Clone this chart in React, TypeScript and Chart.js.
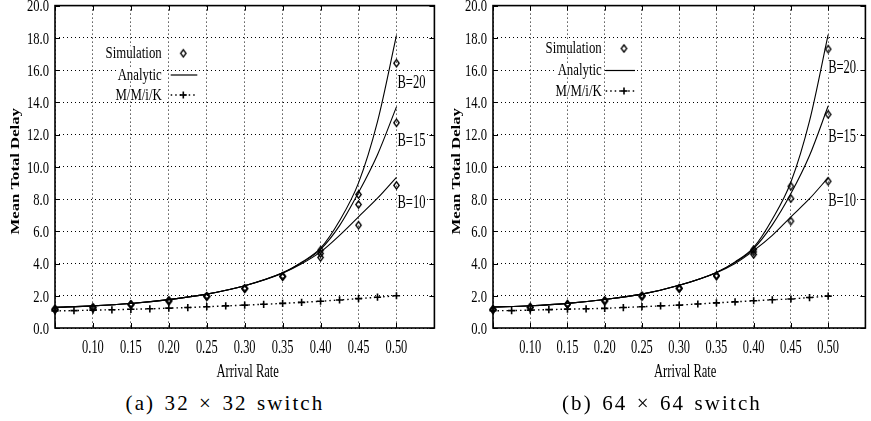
import React, { useEffect, useRef } from 'react';
import { Chart, registerables } from 'chart.js';

Chart.register(...registerables);

const SERIF = '"Liberation Serif", "Times New Roman", Times, serif';

// ---------- data ----------
const xTickLabels = ['0.10', '0.15', '0.20', '0.25', '0.30', '0.35', '0.40', '0.45', '0.50'];
const yTickLabels = ['0.0', '2.0', '4.0', '6.0', '8.0', '10.0', '12.0', '14.0', '16.0', '18.0', '20.0'];
const bufferLabels = ['B=20', 'B=15', 'B=10'];
const legendLabels = ['Simulation', 'Analytic', 'M/M/i/K'];
const captions = ['(a) 32 \u00d7 32 switch', '(b) 64 \u00d7 64 switch'];

const analyticX = [0.05, 0.10, 0.15, 0.20, 0.25, 0.30, 0.35, 0.375, 0.40, 0.425, 0.45, 0.475, 0.50];
const simX = [0.05, 0.10, 0.15, 0.20, 0.25, 0.30, 0.35, 0.40, 0.45, 0.50];
const mmX = [0.05, 0.075, 0.10, 0.125, 0.15, 0.175, 0.20, 0.225, 0.25, 0.275, 0.30, 0.325, 0.35, 0.375, 0.40, 0.425, 0.45, 0.475, 0.50];

// 32 x 32 switch
const analytic32B20 = [1.28, 1.37, 1.52, 1.76, 2.10, 2.62, 3.42, 4.08, 4.95, 6.65, 9.00, 12.80, 18.15];
const analytic32B15 = [1.28, 1.37, 1.52, 1.76, 2.10, 2.62, 3.42, 4.05, 4.88, 6.35, 8.40, 10.75, 13.72];
const analytic32B10 = [1.28, 1.37, 1.52, 1.76, 2.10, 2.62, 3.40, 3.98, 4.72, 5.75, 6.90, 8.05, 9.35];
const sim32B20 = [1.16, 1.26, 1.46, 1.69, 1.96, 2.45, 3.20, 4.83, 8.28, 16.43];
const sim32B15 = [1.16, 1.26, 1.46, 1.69, 1.96, 2.45, 3.20, 4.62, 7.66, 12.73];
const sim32B10 = [1.16, 1.26, 1.46, 1.69, 1.96, 2.45, 3.20, 4.38, 6.38, 8.85];
const mm32 = [1.06, 1.08, 1.11, 1.13, 1.16, 1.19, 1.23, 1.27, 1.32, 1.37, 1.42, 1.47, 1.53, 1.59, 1.66, 1.74, 1.82, 1.91, 2.00];
const labelY32 = [15.25, 11.7, 7.82];

// 64 x 64 switch
const analytic64B20 = [1.30, 1.38, 1.53, 1.77, 2.10, 2.65, 3.45, 4.10, 5.00, 6.75, 9.06, 12.85, 18.20];
const analytic64B15 = [1.30, 1.38, 1.53, 1.77, 2.10, 2.65, 3.45, 4.07, 4.93, 6.40, 8.34, 10.70, 13.77];
const analytic64B10 = [1.30, 1.38, 1.53, 1.77, 2.10, 2.65, 3.43, 4.00, 4.80, 5.75, 6.90, 8.02, 9.33];
const sim64B20 = [1.15, 1.28, 1.47, 1.69, 1.98, 2.46, 3.24, 4.87, 8.79, 17.30];
const sim64B15 = [1.15, 1.28, 1.47, 1.69, 1.98, 2.46, 3.24, 4.72, 8.03, 13.25];
const sim64B10 = [1.15, 1.28, 1.47, 1.69, 1.98, 2.46, 3.24, 4.56, 6.63, 9.10];
const mm64 = [1.07, 1.08, 1.11, 1.14, 1.17, 1.19, 1.22, 1.27, 1.32, 1.37, 1.42, 1.49, 1.56, 1.62, 1.69, 1.75, 1.80, 1.89, 1.98];
const labelY64 = [16.18, 11.95, 7.93];

// ---------- layout (positions / styles) ----------
type Panel = {
  caption: string;
  analytic: number[][];
  sim: number[][];
  mm: number[];
  labelY: number[];
  canvasLeft: number;
  canvasWidth: number;
  padLeft: number;
  padRight: number;
  yTitleDx: number;
  xTitleDx: number;
  legendDx: number;
  legendSymDx: number;
  legendLine: [number, number];
  legendRows: number[];
  bLabelDx: number;
  captionCenter: number;
};

const CANVAS_H = 385;
const PAD_TOP = 5;
const PAD_BOTTOM = 57;

const panels: Panel[] = [
  {
    caption: captions[0],
    analytic: [analytic32B20, analytic32B15, analytic32B10],
    sim: [sim32B20, sim32B15, sim32B10],
    mm: mm32,
    labelY: labelY32,
    canvasLeft: 0,
    canvasWidth: 440,
    padLeft: 55,
    padRight: 3,
    yTitleDx: -39,
    xTitleDx: 3,
    legendDx: 106.7,
    legendSymDx: 128.3,
    legendLine: [115.7, 142.3],
    legendRows: [53.3, 75, 95],
    bLabelDx: 1,
    captionCenter: 225,
  },
  {
    caption: captions[1],
    analytic: [analytic64B20, analytic64B15, analytic64B10],
    sim: [sim64B20, sim64B15, sim64B10],
    mm: mm64,
    labelY: labelY64,
    canvasLeft: 436,
    canvasWidth: 435,
    padLeft: 57,
    padRight: 1,
    yTitleDx: -36,
    xTitleDx: 6,
    legendDx: 108.7,
    legendSymDx: 131,
    legendLine: [112.7, 142],
    legendRows: [48.5, 70.5, 91],
    bLabelDx: 0,
    captionCenter: 662,
  },
];

function drawText(
  ctx: CanvasRenderingContext2D,
  s: string,
  x: number,
  y: number,
  size: number,
  sx: number,
  align: CanvasTextAlign,
  bold = false,
  whiteBg = false,
) {
  ctx.save();
  ctx.font = `${bold ? 'bold ' : ''}${size}px ${SERIF}`;
  ctx.translate(x, y);
  ctx.scale(sx, 1);
  ctx.textAlign = align;
  ctx.textBaseline = 'alphabetic';
  if (whiteBg) {
    const w = ctx.measureText(s).width;
    let x0 = 0;
    if (align === 'right') x0 = -w;
    else if (align === 'center') x0 = -w / 2;
    ctx.fillStyle = '#fff';
    ctx.fillRect(x0 - 1, -size * 0.72, w + 2, size * 0.78);
  }
  ctx.fillStyle = '#000';
  ctx.fillText(s, 0, 0);
  ctx.restore();
}

function makeDiamond(): HTMLCanvasElement {
  const c = document.createElement('canvas');
  c.width = 9;
  c.height = 11;
  const g = c.getContext('2d')!;
  g.strokeStyle = '#000';
  g.lineWidth = 1.35;
  g.beginPath();
  g.moveTo(4.5, 1.8);
  g.lineTo(7.2, 5.5);
  g.lineTo(4.5, 9.2);
  g.lineTo(1.8, 5.5);
  g.closePath();
  g.stroke();
  return c;
}

function makePlugin(p: Panel, diamond: HTMLCanvasElement) {
  return {
    id: 'paperDecor',
    afterDraw(chart: any) {
      const ctx: CanvasRenderingContext2D = chart.ctx;
      const { left, right, top, bottom } = chart.chartArea;
      const xs = chart.scales.x;
      const ys = chart.scales.y;
      ctx.save();
      ctx.strokeStyle = '#000';
      ctx.lineWidth = 1;
      const seg = (x1: number, y1: number, x2: number, y2: number) => {
        ctx.beginPath();
        ctx.moveTo(x1, y1);
        ctx.lineTo(x2, y2);
        ctx.stroke();
      };
      // inward tick marks
      xs.ticks.forEach((t: any) => {
        const px = Math.round(xs.getPixelForValue(t.value)) + 0.5;
        seg(px, bottom, px, bottom - 5);
        seg(px, top, px, top + 5);
      });
      ys.ticks.forEach((t: any) => {
        const py = Math.round(ys.getPixelForValue(t.value)) + 0.5;
        seg(left, py, left + 5, py);
        seg(right, py, right - 5, py);
      });
      // frame
      ctx.lineWidth = 1.6;
      ctx.strokeRect(left, top, right - left, bottom - top);

      // y tick labels
      yTickLabels.forEach((lab) => {
        const py = ys.getPixelForValue(parseFloat(lab));
        drawText(ctx, lab, left - 6, py + 5.8, 17, 0.74, 'right');
      });
      // x tick labels
      xTickLabels.forEach((lab) => {
        const px = xs.getPixelForValue(parseFloat(lab));
        drawText(ctx, lab, px, bottom + 25, 18, 0.69, 'center');
      });
      // axis titles
      drawText(ctx, 'Arrival Rate', (left + right) / 2 + p.xTitleDx, bottom + 49, 19, 0.66, 'center');
      ctx.save();
      ctx.translate(left + p.yTitleDx, (top + bottom) / 2 + 4.5);
      ctx.rotate(-Math.PI / 2);
      ctx.scale(1, 0.7);
      ctx.font = `bold 16.7px ${SERIF}`;
      ctx.textAlign = 'center';
      ctx.textBaseline = 'middle';
      ctx.fillStyle = '#000';
      ctx.fillText('Mean Total Delay', 0, 0);
      ctx.restore();

      // legend
      const lx = left + p.legendDx;
      const r = p.legendRows;
      legendLabels.forEach((lab, i) => {
        drawText(ctx, lab, lx, r[i] + 4.5, 16, 0.8, 'right', false, true);
      });
      const sx = left + p.legendSymDx;
      ctx.drawImage(diamond, sx - diamond.width / 2, r[0] - diamond.height / 2);
      ctx.lineWidth = 1.2;
      seg(left + p.legendLine[0], r[1], left + p.legendLine[1], r[1]);
      ctx.save();
      ctx.setLineDash([1.5, 3]);
      ctx.lineWidth = 1.3;
      seg(left + p.legendLine[0], r[2], left + p.legendLine[1], r[2]);
      ctx.restore();
      ctx.lineWidth = 1.6;
      seg(sx - 3.5, r[2], sx + 3.5, r[2]);
      seg(sx, r[2] - 3.5, sx, r[2] + 3.5);

      // buffer-size labels
      const bx = xs.getPixelForValue(0.5) + p.bLabelDx;
      bufferLabels.forEach((lab, i) => {
        const py = ys.getPixelForValue(p.labelY[i]);
        drawText(ctx, lab, bx, py + 6.3, 19, 0.66, 'left', false, true);
      });
      ctx.restore();
    },
  };
}

function PanelChart({ p }: { p: Panel }) {
  const ref = useRef<HTMLCanvasElement | null>(null);
  useEffect(() => {
    if (!ref.current) return;
    const diamond = makeDiamond();
    const pts = (xs: number[], ys: number[]) => xs.map((x, i) => ({ x, y: ys[i] }));
    const datasets: any[] = [];
    p.analytic.forEach((a, i) => {
      datasets.push({
        label: 'Analytic ' + bufferLabels[i],
        data: pts(analyticX, a),
        borderColor: '#000',
        borderWidth: 1.1,
        pointRadius: 0,
        cubicInterpolationMode: 'monotone',
        fill: false,
        clip: false,
      });
    });
    p.sim.forEach((s, i) => {
      datasets.push({
        label: 'Simulation ' + bufferLabels[i],
        data: pts(simX, s),
        showLine: false,
        pointStyle: diamond,
        pointRadius: 4,
        borderColor: '#000',
        backgroundColor: '#000',
        clip: false,
      });
    });
    datasets.push({
      label: 'M/M/i/K',
      data: pts(mmX, p.mm),
      borderColor: '#000',
      borderWidth: 1.4,
      borderDash: [1.5, 3],
      pointStyle: 'cross',
      pointRadius: 3.6,
      pointBorderWidth: 1.6,
      pointBorderColor: '#000',
      fill: false,
      clip: false,
    });

    const chart = new Chart(ref.current, {
      type: 'line',
      data: { datasets },
      options: {
        animation: false,
        responsive: false,
        events: [],
        layout: { padding: { left: p.padLeft, right: p.padRight, top: PAD_TOP, bottom: PAD_BOTTOM } },
        plugins: { legend: { display: false }, tooltip: { enabled: false }, title: { display: false } },
        scales: {
          x: {
            type: 'linear',
            min: 0.05,
            max: 0.55,
            ticks: { display: false, stepSize: 0.05 },
            grid: { color: '#000', lineWidth: 1, drawTicks: false },
            border: { display: false, dash: [1, 3] },
          },
          y: {
            type: 'linear',
            min: 0,
            max: 20,
            ticks: { display: false, stepSize: 2 },
            grid: { color: '#000', lineWidth: 1, drawTicks: false },
            border: { display: false, dash: [1, 3] },
          },
        },
      },
      plugins: [makePlugin(p, diamond)],
    } as any);
    return () => chart.destroy();
  }, [p]);

  return (
    <canvas
      ref={ref}
      width={p.canvasWidth}
      height={CANVAS_H}
      style={{ position: 'absolute', left: p.canvasLeft, top: 0, width: p.canvasWidth, height: CANVAS_H }}
    />
  );
}

export default function App() {
  return (
    <div
      style={{
        position: 'fixed',
        left: 0,
        top: 0,
        width: 871,
        height: 421,
        background: '#fff',
        overflow: 'hidden',
      }}
    >
      {panels.map((p, i) => (
        <PanelChart key={i} p={p} />
      ))}
      {panels.map((p, i) => (
        <div
          key={'c' + i}
          style={{
            position: 'absolute',
            left: p.captionCenter - 150,
            top: 392,
            width: 300,
            textAlign: 'center',
            fontFamily: SERIF,
            fontSize: 21,
            lineHeight: '23px',
            letterSpacing: '2.1px',
            wordSpacing: '2px',
            color: '#000',
            whiteSpace: 'nowrap',
          }}
        >
          {p.caption}
        </div>
      ))}
    </div>
  );
}
